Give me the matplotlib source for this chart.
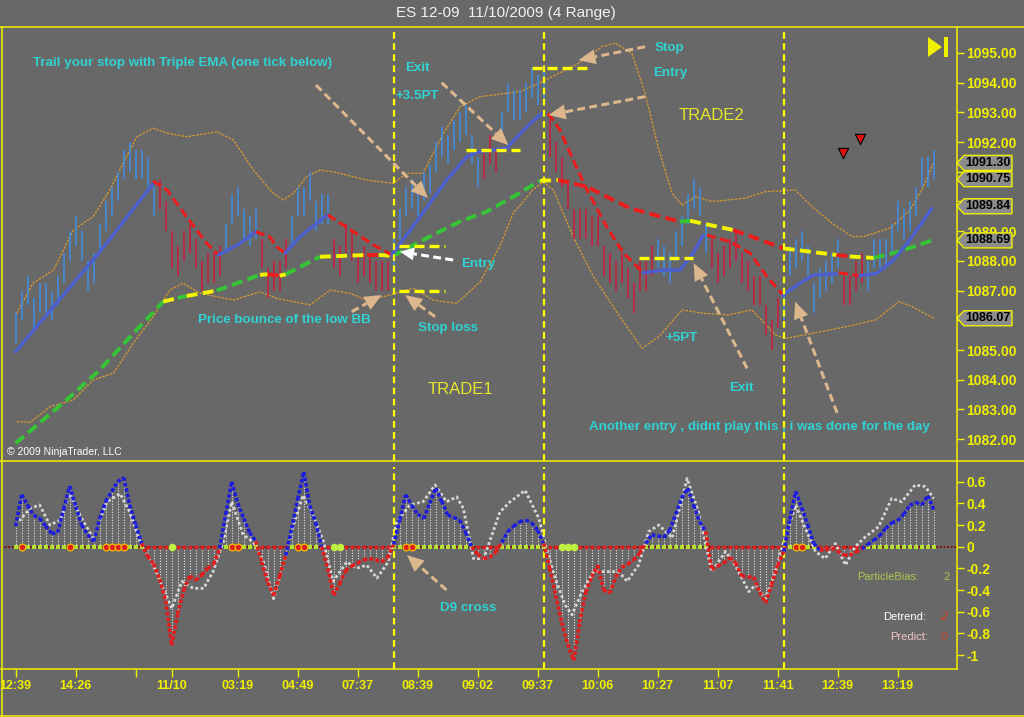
import numpy as np
import matplotlib
matplotlib.use("Agg")
import matplotlib.pyplot as plt
from matplotlib.patches import Polygon
from matplotlib.lines import Line2D
from matplotlib.collections import LineCollection

plt.rcParams['font.family'] = ['Liberation Sans', 'DejaVu Sans']

# ---------------- DATA ----------------
title = "ES 12-09  11/10/2009 (4 Range)"

bar_high = [1086.25,1087.0,1087.5,1086.75,1087.25,1087.25,1087.0,1087.5,1088.25,1089.0,
            1089.5,1089.0,1088.0,1088.25,1089.25,1090.0,1090.5,1091.0,1091.75,1092.0,
            1091.75,1091.75,1091.5,1090.5,1090.75,1090.0,1089.0,1088.5,1089.0,1089.25,
            1088.75,1088.0,1088.25,1088.25,1088.5,1089.25,1090.25,1090.5,1089.75,1089.5,
            1089.75,1088.75,1087.75,1088.0,1088.0,1088.75,1089.5,1090.5,1090.5,1091.0,
            1090.0,1090.25,1090.25,1088.75,1088.5,1089.25,1089.0,1088.25,1088.5,1088.25,
            1088.0,1088.0,1088.0,1088.75,1089.75,1090.5,1090.75,1090.5,1091.0,1091.25,
            1092.0,1092.5,1092.25,1092.75,1093.0,1093.25,1092.25,1091.5,1091.75,1092.25,
            1091.75,1093.0,1094.0,1093.75,1093.75,1094.0,1094.5,1094.25,1094.5,1092.75,
            1092.0,1091.5,1090.75,1089.75,1089.75,1089.75,1089.5,1089.5,1088.5,1088.25,
            1088.0,1088.25,1087.75,1087.25,1088.0,1088.0,1088.5,1088.75,1088.5,1088.25,
            1089.0,1089.5,1090.25,1090.75,1090.5,1089.25,1088.75,1088.25,1088.5,1088.75,
            1089.0,1088.25,1088.0,1087.5,1087.5,1086.5,1086.0,1086.75,1087.0,1088.5,
            1088.75,1089.0,1088.5,1087.25,1087.75,1088.0,1088.25,1088.75,1087.5,1087.5,
            1088.0,1088.25,1088.0,1088.75,1088.75,1088.75,1089.25,1090.0,1089.75,1090.0,
            1090.5,1091.5,1091.5,1091.75]
bar_low = [1085.25,1086.0,1086.5,1085.75,1086.25,1086.25,1086.0,1086.5,1087.25,1088.0,
           1088.5,1088.0,1087.0,1087.25,1088.25,1089.0,1089.5,1090.0,1090.75,1091.0,
           1090.75,1090.75,1090.5,1089.5,1089.75,1089.0,1087.75,1087.5,1088.0,1088.25,
           1087.75,1087.0,1087.25,1087.25,1087.5,1088.25,1089.25,1089.5,1088.75,1088.5,
           1088.75,1087.75,1086.75,1087.0,1087.0,1087.75,1088.5,1089.5,1089.5,1090.0,
           1089.0,1089.25,1089.25,1087.75,1087.5,1088.25,1088.0,1087.25,1087.5,1087.25,
           1087.0,1087.0,1087.0,1087.75,1088.75,1089.5,1089.75,1089.5,1090.0,1090.25,
           1091.0,1091.5,1091.25,1091.75,1092.0,1092.25,1091.25,1090.5,1090.75,1091.25,
           1091.0,1092.0,1093.0,1092.75,1092.75,1093.0,1093.5,1093.25,1093.5,1091.5,
           1091.0,1090.5,1089.75,1088.75,1088.75,1088.75,1088.5,1088.5,1087.5,1087.25,
           1087.0,1087.25,1086.75,1086.25,1087.0,1087.0,1087.5,1087.75,1087.5,1087.25,
           1088.0,1088.5,1089.25,1089.75,1089.5,1088.25,1087.75,1087.25,1087.5,1087.75,
           1088.0,1087.25,1087.0,1086.5,1086.5,1085.5,1085.0,1085.75,1086.0,1087.5,
           1087.75,1088.0,1087.5,1086.25,1086.75,1087.0,1087.25,1087.75,1086.5,1086.5,
           1087.0,1087.25,1087.0,1087.75,1087.75,1087.75,1088.25,1089.0,1088.75,1089.0,
           1089.5,1090.5,1090.5,1090.75]
bar_dir = ("u" * 24 + "d" * 11 + "u" * 6 + "d" * 5 + "u" * 7 + "d" * 10 + "u" * 15 +
           "d" * 3 + "u" * 8 + "d" * 18 + "u" * 9 + "d" * 12 + "u" * 10 + "d" * 4 + "u" * 12)

# Triple EMA: rising (blue) / falling (red) stretches, (bar, price) knots
tema_segments = [
    ("up", [(0, 1084.95), (14, 1088.3), (22.9, 1090.6)]),
    ("dn", [(22.9, 1090.69), (25.2, 1090.39), (28.5, 1089.48), (31.8, 1088.6), (33.8, 1088.2)]),
    ("up", [(33.8, 1088.2), (37, 1088.54), (40, 1088.98)]),
    ("dn", [(40, 1088.98), (42.3, 1088.82), (43.5, 1088.48), (44.9, 1088.26)]),
    ("up", [(44.9, 1088.26), (47.4, 1088.82), (50.2, 1089.27), (52, 1089.55)]),
    ("dn", [(52, 1089.55), (56.3, 1088.98), (59.6, 1088.54), (62.7, 1088.2)]),
    ("up", [(62.7, 1088.2), (67.4, 1089.49), (71.8, 1090.72), (75.2, 1091.51), (77.4, 1091.68),
            (81.8, 1091.79), (85.2, 1092.52), (87.7, 1092.97)]),
    ("dn", [(88.7, 1092.97), (90.7, 1092.41), (92.9, 1091.4), (95.2, 1090.39), (98.5, 1089.15),
            (101.3, 1088.26), (104.6, 1087.6)]),
    ("up", [(104.6, 1087.6), (107.9, 1087.69), (110.7, 1087.69), (112.9, 1088.26), (114.6, 1088.87)]),
    ("dn", [(115.2, 1088.87), (119, 1088.65), (122.4, 1088.26), (125.2, 1087.47), (127.9, 1086.85)]),
    ("up", [(127.9, 1086.85), (130.7, 1087.25), (133, 1087.53), (136.8, 1087.56)]),
    ("dn", [(137.2, 1087.6), (140.7, 1087.5)]),
    ("up", [(140.7, 1087.5), (143.5, 1087.58), (146.3, 1088.03), (149, 1088.7), (152.7, 1089.77)]),
]

# Slow moving average knots, colour of each stretch (g rising, y flat, r falling)
ma_i = [0, 8.5, 14, 19.6, 24.6, 27, 28.5, 33.5, 40.7, 42, 44, 45, 50.7, 58.5, 60.5, 62.9, 69, 74,
        78.5, 82.9, 87.4, 90.4, 95.2, 99.6, 102.4, 110.7, 112.4, 119.6, 128, 136.8, 139, 143, 147, 152.9]
ma_p = [1081.86, 1083.32, 1084.33, 1085.56, 1086.63, 1086.75, 1086.82, 1087.0, 1087.53, 1087.55,
        1087.5, 1087.55, 1088.14, 1088.2, 1088.2, 1088.17, 1088.82, 1089.32, 1089.66, 1090.16,
        1090.7, 1090.72, 1090.5, 1090.05, 1089.77, 1089.32, 1089.35, 1089.04, 1088.42, 1088.2,
        1088.15, 1088.1, 1088.3, 1088.7]
ma_c = "ggggygygyrygyrygggggyrrrrgyryrygg"

# Bollinger bands
bbu_i = [0.17, 2.9, 6.3, 9.6, 12.9, 15.7, 17.9, 20.2, 22.9, 25.2, 28.5, 33.5, 36.3, 39.6, 42.9, 44.6,
         46.3, 48.5, 50.7, 52.9, 58.5, 62.9, 65.2, 67.9, 71.3, 74.05, 77.4, 81.8, 84.05, 87.4, 93.8,
         97.7, 99.9, 102.7, 104.9, 107.2, 109.4, 111.05, 113.3, 116.05, 121.6, 124.9, 129.9, 132.7,
         136.05, 139.4, 141.3, 145.7, 149.05, 151.3, 152.9]
bbu_p = [1086.23, 1087.25, 1087.69, 1089.04, 1089.49, 1090.39, 1091.29, 1092.18, 1092.47, 1092.3,
         1092.18, 1092.35, 1092.07, 1091.06, 1090.28, 1090.05, 1090.28, 1090.84, 1091.06, 1091.0,
         1090.72, 1090.61, 1090.95, 1090.95, 1092.3, 1093.19, 1093.53, 1093.64, 1093.7, 1094.0,
         1094.65, 1095.21, 1095.33, 1094.99, 1093.64, 1091.73, 1090.28, 1089.88, 1090.16, 1090.0,
         1090.11, 1090.33, 1090.39, 1089.83, 1089.27, 1088.82, 1088.82, 1089.1, 1089.71, 1090.5, 1091.29]
bbl_i = [0.17, 2.4, 5.7, 9.6, 12.9, 16.3, 19.6, 22.9, 25.7, 27.9, 30.7, 36.3, 40.7, 43.5, 49.05, 52.4,
         55.7, 58.5, 62.4, 66.3, 69.6, 73.5, 77.4, 80.7, 82.9, 86.2, 87.9, 89.6, 92.9, 96.3, 100.7,
         104.4, 107.2, 111.05, 114.9, 118.8, 122.7, 126.6, 128.3, 132.7, 138.3, 143.3, 147.2, 149.4, 153]
bbl_p = [1082.59, 1082.56, 1083.09, 1083.32, 1083.99, 1084.22, 1085.23, 1086.12, 1087.02, 1087.25,
         1086.91, 1086.68, 1086.96, 1086.74, 1086.52, 1087.02, 1086.91, 1086.68, 1086.85, 1087.08,
         1086.68, 1086.57, 1087.3, 1088.5, 1089.6, 1090.39, 1090.67, 1090.39, 1088.82, 1087.47,
         1086.12, 1085.06, 1085.45, 1086.35, 1086.23, 1086.18, 1086.35, 1085.51, 1085.39, 1085.56,
         1085.78, 1086.01, 1086.63, 1086.46, 1086.07]

# trade levels
trade_y = [1088.5, 1087.0, 1091.75, 1094.5, 1088.1]
trade_x0 = [63.9, 63.9, 75.0, 86.0, 103.9]
trade_x1 = [71.6, 71.6, 84.05, 95.2, 112.9]
session_lines = [63, 88, 128]
sell_marks_i = [137.9, 140.7]
sell_marks_p = [1091.63, 1092.1]
flag_prices = [1091.30, 1090.75, 1089.84, 1088.69, 1086.07]

# oscillator per bar
osc = [0.19,0.48,0.38,0.29,0.26,0.19,0.12,0.13,0.35,0.56,
       0.37,0.2,0.11,0.05,0.26,0.42,0.51,0.6,0.64,0.385,
       0.2,0.03,-0.09,-0.16,-0.3,-0.5,-0.91,-0.62,-0.4,-0.27,
       -0.31,-0.26,-0.2,-0.16,-0.015,0.3,0.6,0.4,0.26,0.13,
       0.05,-0.14,-0.33,-0.45,-0.27,-0.08,0.17,0.44,0.69,0.38,
       0.22,0.0,-0.2,-0.45,-0.34,-0.22,-0.18,-0.15,-0.12,-0.11,
       -0.12,-0.14,-0.1,0.02,0.25,0.48,0.38,0.3,0.26,0.4,
       0.54,0.42,0.29,0.27,0.245,0.13,0.0,-0.07,-0.11,-0.1,
       -0.05,0.04,0.14,0.19,0.23,0.245,0.22,0.15,0.03,-0.2,
       -0.45,-0.7,-0.9,-1.05,-0.7,-0.42,-0.28,-0.17,-0.4,-0.43,
       -0.28,-0.19,-0.16,-0.12,-0.06,0.03,0.11,0.1,0.085,0.15,
       0.3,0.45,0.54,0.38,0.23,0.14,-0.21,-0.18,-0.15,-0.1,
       -0.15,-0.27,-0.28,-0.28,-0.42,-0.52,-0.35,-0.17,-0.045,0.25,
       0.51,0.36,0.2,0.03,-0.03,-0.03,-0.015,-0.04,-0.08,-0.08,
       -0.05,-0.02,0.02,0.06,0.1,0.17,0.22,0.24,0.3,0.38,
       0.41,0.385,0.47,0.34]
sig_i = [0,2.4,4,5.7,7.4,9,11,12.9,15.2,17.4,19,20.7,22.9,24.6,26,27.7,29.6,31.3,32.9,34.6,36,37.9,
         39.6,41.3,43,44.6,46.3,47.9,49.6,51.3,52.9,55.2,56.8,58.5,60.2,62.1,63.5,65.7,67.9,69.9,
         71.8,73.5,74.6,76.3,78,80.7,82.4,84.9,87.2,88.3,89.9,91.6,92.7,94.4,96.3,98.3,100.5,101.9,
         103.8,105.5,107.2,109.4,111.9,113.8,116,118.3,119.9,122.2,123.3,124.9,126.6,128,130,131.6,
         133.3,134.9,136.6,138.3,139.9,141.6,143.8,146,147.7,149.9,151.6,153]
sig_v = [0.2,0.355,0.385,0.2,0.245,0.49,0.26,0.08,0.415,0.49,0.32,0.045,-0.17,-0.385,-0.57,-0.32,
         -0.385,-0.385,-0.23,0.045,0.415,0.11,0.045,-0.14,-0.48,-0.17,0.2,0.475,0.29,0.045,-0.32,
         -0.14,-0.2,-0.17,-0.29,-0.14,0.23,0.385,0.415,0.57,0.415,0.46,0.355,-0.11,-0.11,0.32,0.415,
         0.52,0.26,0.015,-0.29,-0.54,-0.63,-0.415,-0.23,-0.23,-0.23,-0.32,-0.17,0.14,0.2,0.08,0.63,
         0.32,-0.23,-0.045,-0.17,-0.415,-0.35,-0.48,-0.23,0.045,0.385,0.17,-0.045,-0.11,0.03,-0.17,
         0.0,0.09,0.185,0.445,0.415,0.57,0.555,0.445]
ring_idx = [1, 9, 15, 16, 17, 18, 36, 37, 47, 48, 65, 66, 130, 131]
lime_idx = [26, 53, 54, 91, 92, 93]

xtick_pos = [0, 10, 20, 26, 37, 47, 57, 67, 77, 87, 97, 107, 117, 127, 137, 147]
xtick_lab = ['12:39', '14:26', '', '11/10', '03:19', '04:49', '07:37', '08:39', '09:02',
             '09:37', '10:06', '10:27', '11:07', '11:41', '12:39', '13:19']
price_ticks = list(range(1082, 1096))
hidden_price_labels = [1086, 1090, 1091]   # covered by the price flags
osc_ticks = [0.6, 0.4, 0.2, 0, -0.2, -0.4, -0.6, -0.8, -1.0]
osc_tick_lab = ['0.6', '0.4', '0.2', '0', '-0.2', '-0.4', '-0.6', '-0.8', '-1']

# ---------------- STYLE ----------------
W, H = 1024, 717
BG = '#686868'
YEL = '#f0f000'
CYAN = '#30d2d2'
TAN = '#dcb78e'

fig = plt.figure(figsize=(W / 100, H / 100), dpi=100)
fig.patch.set_facecolor(BG)


def px_axes(x0, y0, x1, y1):
    return fig.add_axes([x0 / W, 1 - y1 / H, (x1 - x0) / W, (y1 - y0) / H])


def fline(x0, y0, x1, y1, **kw):
    fig.add_artist(Line2D([x0 / W, x1 / W], [1 - y0 / H, 1 - y1 / H], transform=fig.transFigure, **kw))


def ftext(x, y, s, **kw):
    fig.text(x / W, 1 - y / H, s, **kw)


ax = px_axes(1, 27, 957, 461)
ax2 = px_axes(1, 461, 957, 669)
XL = (-2.45, 156.88)
for a in (ax, ax2):
    a.set_facecolor(BG)
    a.set_xlim(*XL)
    for s in a.spines.values():
        s.set_visible(False)
ax.set_ylim(1081.263, 1095.875)
ax2.set_ylim(-1.129, 0.791)

# ticks
ax.set_xticks([])
ax.yaxis.tick_right()
ax.set_yticks(price_ticks)
ax.set_yticklabels(['' if v in hidden_price_labels else '%.2f' % v for v in price_ticks],
                   fontweight='bold')
ax.tick_params(axis='y', direction='out', length=5, width=1, color=YEL, pad=1.5,
               labelsize=10, labelcolor=YEL)
ax2.yaxis.tick_right()
ax2.set_yticks(osc_ticks)
ax2.set_yticklabels(osc_tick_lab, fontweight='bold')
ax2.tick_params(axis='y', direction='out', length=5, width=1, color=YEL, pad=1.5,
                labelsize=10, labelcolor=YEL)
ax2.set_xticks(xtick_pos)
ax2.set_xticklabels(xtick_lab, fontweight='bold')
ax2.tick_params(axis='x', direction='out', length=6, width=1, color=YEL, pad=2,
                labelsize=9, labelcolor=YEL)

idx = np.arange(len(bar_high))

# ---------- upper panel ----------
ax.plot(bbu_i, bbu_p, color='#d89a30', lw=0.9, ls=(0, (2, 1)), zorder=2)
ax.plot(bbl_i, bbl_p, color='#d89a30', lw=0.9, ls=(0, (2, 1)), zorder=2)

bcol = ['#3d8fe6' if d == 'u' else '#cf1a3e' for d in bar_dir]
ax.vlines(idx, bar_low, bar_high, colors=bcol, lw=1.1, zorder=3)

mcol = {'g': '#35c535', 'y': '#f4f400', 'r': '#ec1c1c'}
k = 0
while k < len(ma_c):
    j = k
    while j + 1 < len(ma_c) and ma_c[j + 1] == ma_c[k]:
        j += 1
    ax.plot(ma_i[k:j + 2], ma_p[k:j + 2], color=mcol[ma_c[k]], lw=2.8,
            ls=(0, (2.8, 1.4)), zorder=4)
    k = j + 1

for kind, pts in tema_segments:
    xs = [p[0] for p in pts]
    ys = [p[1] for p in pts]
    if kind == 'up':
        ax.plot(xs, ys, color='#4b5fcf', lw=2.4, solid_capstyle='round', zorder=5)
    else:
        ax.plot(xs, ys, color='#ec1c1c', lw=2.2, ls=(0, (3, 1.4)), zorder=5)

for y, x0, x1 in zip(trade_y, trade_x0, trade_x1):
    ax.plot([x0, x1], [y, y], color='#ffff00', lw=2.4, ls=(0, (3, 1.5)), zorder=6)

for s in session_lines:
    ax.axvline(s, ymin=0, ymax=0.988, color='#ffff00', lw=1.6, ls=(0, (3, 2)), zorder=6)
    ax2.axvline(s, ymin=0, ymax=0.97, color='#ffff00', lw=1.6, ls=(0, (3, 2)), zorder=6)

ax.scatter(sell_marks_i, sell_marks_p, marker='v', s=55, c='#e01010', edgecolors='black',
           linewidths=0.8, zorder=7)


def arrow(a, tail, tip, color, hl=17, hw=7.5):
    T = a.transData
    p0 = np.array(T.transform(tail))
    p1 = np.array(T.transform(tip))
    d = p1 - p0
    u = d / np.hypot(*d)
    n = np.array([-u[1], u[0]])
    base = p1 - u * hl
    inv = T.inverted()
    b = inv.transform(base)
    a.plot([tail[0], b[0]], [tail[1], b[1]], color=color, lw=2.2, ls=(0, (2.6, 1.4)),
           zorder=8, clip_on=False)
    pts = inv.transform(np.array([p1, base + n * hw, base - n * hw]))
    a.add_patch(Polygon(pts, closed=True, fc=color, ec='none', zorder=8, clip_on=False))


arrow(ax, (50.05, 1093.92), (68.7, 1090.12), TAN)
arrow(ax, (71.0, 1094.0), (82.1, 1091.9), TAN)
arrow(ax, (104.9, 1095.21), (93.8, 1094.76), TAN)
arrow(ax, (104.9, 1093.53), (88.8, 1092.91), TAN)
arrow(ax, (56.0, 1086.29), (61.0, 1086.85), TAN)
arrow(ax, (69.9, 1086.12), (64.9, 1086.85), TAN)
arrow(ax, (72.9, 1088.03), (64.05, 1088.31), 'white', hl=14, hw=6.5)
arrow(ax, (121.9, 1084.38), (113.0, 1087.92), TAN)
arrow(ax, (136.9, 1082.88), (129.9, 1086.63), TAN)
arrow(ax2, (71.8, -0.40), (65.2, -0.077), TAN)

# ---------- lower panel ----------
osc_a = np.array(osc)
ax2.vlines(idx, 0, osc_a, colors='#e6e6e6', lw=0.8, linestyles=(0, (1, 1.4)), zorder=2)
ax2.axhline(0, color='#8a0000', lw=1.3, ls=(0, (1, 1)), zorder=3)
pos = osc_a >= 0
ax2.scatter(idx[pos], np.zeros(pos.sum()), marker='s', s=9, c='#b4e030', linewidths=0, zorder=4)
ax2.scatter(idx[~pos], np.zeros((~pos).sum()), marker='o', s=9, c='#e02020', linewidths=0, zorder=4)
ax2.scatter(ring_idx, np.zeros(len(ring_idx)), marker='o', s=24, c='#e02020',
            edgecolors='#f0c000', linewidths=0.9, zorder=5)
ax2.scatter(lime_idx, np.zeros(len(lime_idx)), marker='o', s=30, c='#c0f040', linewidths=0, zorder=5)

ax2.plot(sig_i, sig_v, color='#d8d8d8', lw=2.0, ls=(0, (1, 0.9)), zorder=5)
segs, cols = [], []
for i in range(len(osc) - 1):
    segs.append([(i, osc[i]), (i + 1, osc[i + 1])])
    cols.append('#1c1ce0' if (osc[i] + osc[i + 1]) / 2 >= 0 else '#e41b1b')
ax2.add_collection(LineCollection(segs, colors=cols, linewidths=2.6,
                                  linestyles=(0, (1, 0.55)), zorder=6))

# ---------- frame ----------
for (x0, y0, x1, y1) in [(0, 27, 1024, 27), (1.5, 27, 1.5, 716), (0, 461, 1024, 461),
                         (0, 716, 1024, 716), (957, 27, 957, 669), (1, 669, 957, 669)]:
    fline(x0, y0, x1, y1, color=YEL, lw=1.1)

for v in flag_prices:
    yd = ax.transData.transform((0, v))[1] / H
    x_tip, x_a, x_b = 957 / W, 964 / W, 1012 / W
    hh = 7.5 / H
    fig.add_artist(Polygon([(x_tip, yd), (x_a, yd + hh), (x_b, yd + hh), (x_b, yd - hh), (x_a, yd - hh)],
                           closed=True, fc='#8c8c8c', ec=YEL, lw=1, transform=fig.transFigure))
    fig.text(988 / W, yd, '%.2f' % v, color='black', fontweight='bold', fontsize=9,
             va='center', ha='center')

fig.add_artist(Polygon([(928 / W, 1 - 37 / H), (928 / W, 1 - 57 / H), (942 / W, 1 - 47 / H)],
                       closed=True, fc='#f0f000', ec='none', transform=fig.transFigure))
fig.add_artist(Polygon([(944 / W, 1 - 37 / H), (948 / W, 1 - 37 / H), (948 / W, 1 - 57 / H),
                        (944 / W, 1 - 57 / H)], closed=True, fc='#f0f000', ec='none',
                       transform=fig.transFigure))

# ---------- texts ----------
ftext(506, 13, title, color='#f2f2f2', fontsize=11, ha='center', va='center')
tb = dict(color=CYAN, fontweight='bold', fontsize=9.6, va='center', ha='left')
ftext(33, 63, "Trail your stop with Triple EMA (one tick below)", **tb)
ftext(405, 68, "Exit", **tb)
ftext(396, 96, "+3.5PT", **tb)
ftext(655, 48, "Stop", **tb)
ftext(653, 73, "Entry", **tb)
ftext(461, 264, "Entry", **tb)
ftext(198, 320, "Price bounce of the low BB", **tb)
ftext(418, 328, "Stop loss", **tb)
ftext(665, 338, "+5PT", **tb)
ftext(729, 388, "Exit", **tb)
ftext(589, 427, "Another entry , didnt play this , i was done for the day", **tb)
ftext(440, 608, "D9 cross", **tb)
ftext(679, 116, "TRADE2", color='#e6e62a', fontsize=12, ha='left', va='center')
ftext(428, 390, "TRADE1", color='#e6e62a', fontsize=12, ha='left', va='center')
ftext(7, 452, "\u00a9 2009 NinjaTrader, LLC", color='white', fontsize=7.5, ha='left', va='center')
ftext(857, 577, "ParticleBias:", color='#a8c850', fontsize=8, ha='left', va='center')
ftext(947, 577, "2", color='#a8c850', fontsize=8, ha='center', va='center')
ftext(883, 617, "Detrend:", color='white', fontsize=8, ha='left', va='center')
ftext(943, 617, "-2", color='#d8401c', fontsize=8, fontstyle='italic', ha='center', va='center')
ftext(890, 637, "Predict:", color='#f2c6c6', fontsize=8, ha='left', va='center')
ftext(944, 637, "0", color='#d8401c', fontsize=8, fontstyle='italic', ha='center', va='center')

fig.savefig('out.png', dpi=100, facecolor=BG)
